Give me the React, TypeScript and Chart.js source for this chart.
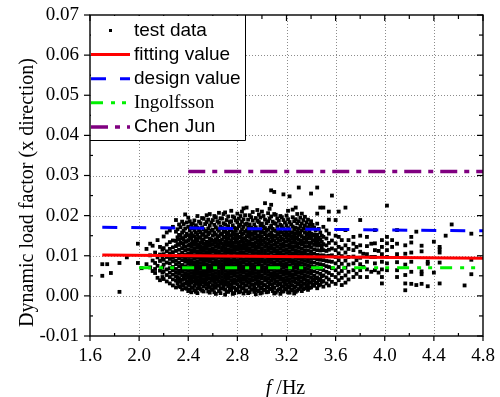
import React, { useEffect, useRef } from "react";
import { Chart, registerables } from "chart.js";

Chart.register(...registerables);

// ---- axis ticks ----
const xTicks = [1.6, 2.0, 2.4, 2.8, 3.2, 3.6, 4.0, 4.4, 4.8];
const xMinorTicks = [1.8, 2.2, 2.6, 3.0, 3.4, 3.8, 4.2, 4.6];
const yTicks = [-0.01, 0.0, 0.01, 0.02, 0.03, 0.04, 0.05, 0.06, 0.07];
const yMinorTicks = [-0.005, 0.005, 0.015, 0.025, 0.035, 0.045, 0.055, 0.065];

// ---- legend / titles ----
const legendLabels = ["test data", "fitting value", "design value", "Ingolfsson", "Chen Jun"];
const xTitleItalic = "f";
const xTitleRest = " /Hz";
const yTitle = "Dynamic load factor (x direction)";

// ---- reference lines ----
const fitF = [1.7, 4.8];
const fitV = [0.0102, 0.0094];
const designF = [1.7, 4.8];
const designV = [0.0171, 0.0162];
const ingolfssonF = [2.0, 4.8];
const ingolfssonV = [0.007, 0.007];
const chenF = [2.4, 4.8];
const chenV = [0.031, 0.031];

// ---- test data: [frequency, values at that frequency] ----
const testColumns: [number, number[]][] = [
  [1.70, [0.0079, 0.0050]],
  [1.74, [0.0079]],
  [1.77, [0.0057]],
  [1.84, [0.0082, 0.0010]],
  [1.90, [0.0096]],
  [1.99, [0.0082, 0.0130]],
  [2.02, [0.0069]],
  [2.06, [0.0117, 0.0079]],
  [2.09, [0.0130, 0.0101, 0.0071]],
  [2.11, [0.0125, 0.0088, 0.0062]],
  [2.13, [0.0082, 0.0067, 0.0057, 0.0108]],
  [2.15, [0.0139, 0.0075, 0.0045, 0.0096]],
  [2.17, [0.0122, 0.0063, 0.0039, 0.0103, 0.0087]],
  [2.19, [0.0115, 0.0047, 0.0071, 0.0093, 0.0058]],
  [2.200, [0.0042, 0.0061, 0.0078, 0.0090, 0.0104, 0.0119, 0.0148]],
  [2.225, [0.0036, 0.0052, 0.0066, 0.0083, 0.0097, 0.0111, 0.0128, 0.0158]],
  [2.250, [0.0031, 0.0047, 0.0058, 0.0069, 0.0081, 0.0092, 0.0106, 0.0117, 0.0134, 0.0163]],
  [2.275, [0.0026, 0.0041, 0.0053, 0.0064, 0.0072, 0.0086, 0.0095, 0.0109, 0.0121, 0.0138, 0.0172]],
  [2.300, [0.0021, 0.0038, 0.0049, 0.0058, 0.0067, 0.0079, 0.0088, 0.0099, 0.0112, 0.0124, 0.0137, 0.0160, 0.0189]],
  [2.325, [0.0024, 0.0035, 0.0044, 0.0055, 0.0063, 0.0074, 0.0083, 0.0094, 0.0103, 0.0115, 0.0127, 0.0141, 0.0152, 0.0178]],
  [2.350, [0.0016, 0.0029, 0.0040, 0.0051, 0.0060, 0.0069, 0.0077, 0.0089, 0.0098, 0.0108, 0.0119, 0.0131, 0.0144, 0.0158, 0.0185]],
  [2.375, [0.0019, 0.0031, 0.0042, 0.0050, 0.0057, 0.0066, 0.0074, 0.0085, 0.0093, 0.0102, 0.0113, 0.0122, 0.0135, 0.0149, 0.0168, 0.0203]],
  [2.400, [0.0012, 0.0027, 0.0036, 0.0045, 0.0054, 0.0062, 0.0071, 0.0080, 0.0088, 0.0097, 0.0106, 0.0116, 0.0126, 0.0139, 0.0151, 0.0172, 0.0195]],
  [2.425, [0.0009, 0.0021, 0.0033, 0.0041, 0.0049, 0.0057, 0.0065, 0.0072, 0.0081, 0.0089, 0.0098, 0.0105, 0.0113, 0.0122, 0.0131, 0.0142, 0.0156, 0.0177]],
  [2.450, [0.0014, 0.0025, 0.0037, 0.0046, 0.0053, 0.0061, 0.0068, 0.0076, 0.0084, 0.0093, 0.0101, 0.0110, 0.0118, 0.0127, 0.0136, 0.0148, 0.0163, 0.0188]],
  [2.475, [0.0007, 0.0019, 0.0030, 0.0039, 0.0047, 0.0055, 0.0063, 0.0070, 0.0079, 0.0086, 0.0095, 0.0103, 0.0111, 0.0120, 0.0129, 0.0139, 0.0152, 0.0170, 0.0199]],
  [2.500, [0.0017, 0.0028, 0.0036, 0.0044, 0.0051, 0.0059, 0.0067, 0.0074, 0.0082, 0.0091, 0.0099, 0.0107, 0.0115, 0.0124, 0.0133, 0.0145, 0.0159, 0.0181]],
  [2.525, [0.0011, 0.0023, 0.0034, 0.0042, 0.0050, 0.0058, 0.0066, 0.0073, 0.0080, 0.0088, 0.0096, 0.0104, 0.0112, 0.0121, 0.0130, 0.0140, 0.0154, 0.0166, 0.0192]],
  [2.550, [0.0019, 0.0031, 0.0040, 0.0048, 0.0056, 0.0064, 0.0071, 0.0078, 0.0087, 0.0094, 0.0102, 0.0109, 0.0117, 0.0126, 0.0135, 0.0147, 0.0161, 0.0184, 0.0201]],
  [2.575, [0.0008, 0.0022, 0.0033, 0.0043, 0.0052, 0.0060, 0.0068, 0.0076, 0.0085, 0.0092, 0.0100, 0.0108, 0.0116, 0.0125, 0.0134, 0.0143, 0.0157, 0.0175, 0.0204]],
  [2.600, [0.0015, 0.0027, 0.0038, 0.0046, 0.0054, 0.0062, 0.0069, 0.0077, 0.0084, 0.0093, 0.0101, 0.0110, 0.0119, 0.0128, 0.0138, 0.0150, 0.0165, 0.0189]],
  [2.625, [0.0005, 0.0020, 0.0032, 0.0041, 0.0049, 0.0057, 0.0065, 0.0073, 0.0081, 0.0089, 0.0097, 0.0106, 0.0114, 0.0123, 0.0132, 0.0141, 0.0153, 0.0171, 0.0196]],
  [2.650, [0.0012, 0.0026, 0.0036, 0.0045, 0.0053, 0.0061, 0.0070, 0.0078, 0.0086, 0.0095, 0.0103, 0.0111, 0.0120, 0.0129, 0.0137, 0.0149, 0.0162, 0.0182, 0.0207]],
  [2.675, [0.0018, 0.0030, 0.0039, 0.0047, 0.0055, 0.0063, 0.0071, 0.0079, 0.0087, 0.0096, 0.0104, 0.0113, 0.0121, 0.0130, 0.0140, 0.0155, 0.0169, 0.0193]],
  [2.700, [0.0003, 0.0016, 0.0028, 0.0037, 0.0046, 0.0054, 0.0062, 0.0070, 0.0078, 0.0086, 0.0094, 0.0102, 0.0110, 0.0119, 0.0127, 0.0136, 0.0146, 0.0160, 0.0178, 0.0208]],
  [2.725, [0.0010, 0.0024, 0.0034, 0.0043, 0.0051, 0.0059, 0.0067, 0.0075, 0.0083, 0.0091, 0.0099, 0.0108, 0.0116, 0.0125, 0.0134, 0.0144, 0.0157, 0.0174, 0.0198]],
  [2.750, [0.0014, 0.0027, 0.0038, 0.0047, 0.0056, 0.0064, 0.0072, 0.0080, 0.0088, 0.0097, 0.0105, 0.0114, 0.0122, 0.0131, 0.0139, 0.0151, 0.0166, 0.0186, 0.0212]],
  [2.775, [0.0007, 0.0021, 0.0032, 0.0041, 0.0050, 0.0058, 0.0066, 0.0074, 0.0082, 0.0090, 0.0098, 0.0107, 0.0115, 0.0124, 0.0133, 0.0143, 0.0154, 0.0170, 0.0195]],
  [2.800, [0.0017, 0.0029, 0.0039, 0.0048, 0.0057, 0.0065, 0.0073, 0.0081, 0.0089, 0.0098, 0.0106, 0.0115, 0.0123, 0.0132, 0.0142, 0.0153, 0.0168, 0.0183, 0.0205]],
  [2.825, [0.0011, 0.0023, 0.0035, 0.0044, 0.0052, 0.0060, 0.0068, 0.0076, 0.0084, 0.0092, 0.0100, 0.0109, 0.0117, 0.0126, 0.0135, 0.0146, 0.0159, 0.0177, 0.0199]],
  [2.850, [0.0006, 0.0019, 0.0031, 0.0040, 0.0049, 0.0058, 0.0066, 0.0074, 0.0083, 0.0091, 0.0100, 0.0108, 0.0117, 0.0125, 0.0134, 0.0144, 0.0156, 0.0172, 0.0191, 0.0218]],
  [2.875, [0.0014, 0.0026, 0.0037, 0.0045, 0.0054, 0.0062, 0.0070, 0.0078, 0.0087, 0.0095, 0.0103, 0.0112, 0.0120, 0.0129, 0.0138, 0.0149, 0.0163, 0.0180, 0.0220]],
  [2.900, [0.0009, 0.0022, 0.0033, 0.0042, 0.0051, 0.0059, 0.0067, 0.0075, 0.0084, 0.0092, 0.0101, 0.0110, 0.0118, 0.0127, 0.0136, 0.0147, 0.0161, 0.0178, 0.0201]],
  [2.925, [0.0016, 0.0028, 0.0038, 0.0047, 0.0055, 0.0063, 0.0071, 0.0079, 0.0088, 0.0096, 0.0105, 0.0113, 0.0122, 0.0131, 0.0141, 0.0152, 0.0167, 0.0188, 0.0209]],
  [2.950, [0.0004, 0.0018, 0.0030, 0.0040, 0.0049, 0.0057, 0.0065, 0.0073, 0.0082, 0.0090, 0.0099, 0.0107, 0.0116, 0.0124, 0.0133, 0.0143, 0.0155, 0.0171, 0.0194]],
  [2.975, [0.0012, 0.0025, 0.0036, 0.0045, 0.0053, 0.0061, 0.0070, 0.0078, 0.0086, 0.0094, 0.0103, 0.0111, 0.0120, 0.0129, 0.0139, 0.0150, 0.0164, 0.0184, 0.0203]],
  [3.000, [0.0008, 0.0021, 0.0033, 0.0043, 0.0051, 0.0060, 0.0068, 0.0076, 0.0085, 0.0093, 0.0102, 0.0110, 0.0119, 0.0128, 0.0137, 0.0148, 0.0162, 0.0180, 0.0210]],
  [3.025, [0.0015, 0.0027, 0.0038, 0.0046, 0.0055, 0.0063, 0.0071, 0.0080, 0.0088, 0.0097, 0.0105, 0.0114, 0.0123, 0.0132, 0.0142, 0.0154, 0.0169, 0.0190, 0.0231]],
  [3.050, [0.0010, 0.0023, 0.0034, 0.0043, 0.0052, 0.0060, 0.0069, 0.0077, 0.0086, 0.0094, 0.0103, 0.0112, 0.0121, 0.0130, 0.0140, 0.0151, 0.0165, 0.0186, 0.0206]],
  [3.075, [0.0017, 0.0029, 0.0039, 0.0048, 0.0056, 0.0065, 0.0073, 0.0082, 0.0090, 0.0099, 0.0108, 0.0117, 0.0126, 0.0135, 0.0145, 0.0158, 0.0175, 0.0198, 0.0227, 0.0263]],
  [3.100, [0.0006, 0.0020, 0.0032, 0.0042, 0.0050, 0.0059, 0.0067, 0.0076, 0.0084, 0.0093, 0.0101, 0.0110, 0.0119, 0.0128, 0.0138, 0.0149, 0.0163, 0.0181, 0.0204, 0.0259]],
  [3.125, [0.0013, 0.0026, 0.0036, 0.0045, 0.0054, 0.0062, 0.0071, 0.0079, 0.0088, 0.0096, 0.0105, 0.0114, 0.0123, 0.0133, 0.0143, 0.0156, 0.0172, 0.0193]],
  [3.150, [0.0005, 0.0018, 0.0030, 0.0040, 0.0049, 0.0058, 0.0066, 0.0075, 0.0083, 0.0092, 0.0100, 0.0109, 0.0118, 0.0127, 0.0137, 0.0147, 0.0160, 0.0177, 0.0199]],
  [3.175, [0.0011, 0.0024, 0.0035, 0.0044, 0.0053, 0.0061, 0.0070, 0.0078, 0.0087, 0.0095, 0.0104, 0.0113, 0.0122, 0.0131, 0.0141, 0.0153, 0.0168, 0.0189, 0.0253]],
  [3.200, [0.0016, 0.0028, 0.0038, 0.0047, 0.0056, 0.0064, 0.0073, 0.0081, 0.0090, 0.0098, 0.0107, 0.0116, 0.0125, 0.0135, 0.0146, 0.0159, 0.0176, 0.0200]],
  [3.225, [0.0008, 0.0021, 0.0033, 0.0042, 0.0051, 0.0059, 0.0068, 0.0076, 0.0085, 0.0093, 0.0102, 0.0111, 0.0120, 0.0129, 0.0139, 0.0150, 0.0164, 0.0184, 0.0248]],
  [3.250, [0.0014, 0.0026, 0.0037, 0.0046, 0.0054, 0.0063, 0.0071, 0.0080, 0.0088, 0.0097, 0.0106, 0.0115, 0.0124, 0.0134, 0.0144, 0.0157, 0.0173, 0.0196, 0.0215]],
  [3.275, [0.0010, 0.0023, 0.0034, 0.0044, 0.0053, 0.0061, 0.0070, 0.0079, 0.0087, 0.0096, 0.0105, 0.0114, 0.0123, 0.0132, 0.0142, 0.0155, 0.0170, 0.0191, 0.0220]],
  [3.300, [0.0017, 0.0029, 0.0040, 0.0049, 0.0058, 0.0067, 0.0075, 0.0084, 0.0093, 0.0102, 0.0111, 0.0120, 0.0130, 0.0140, 0.0152, 0.0167, 0.0186, 0.0270]],
  [3.325, [0.0012, 0.0025, 0.0036, 0.0046, 0.0055, 0.0064, 0.0073, 0.0082, 0.0091, 0.0100, 0.0109, 0.0118, 0.0128, 0.0138, 0.0149, 0.0163, 0.0180, 0.0205]],
  [3.350, [0.0019, 0.0031, 0.0042, 0.0051, 0.0060, 0.0069, 0.0078, 0.0087, 0.0096, 0.0105, 0.0114, 0.0124, 0.0134, 0.0145, 0.0158, 0.0175, 0.0197]],
  [3.375, [0.0015, 0.0028, 0.0039, 0.0049, 0.0058, 0.0067, 0.0076, 0.0085, 0.0094, 0.0103, 0.0113, 0.0123, 0.0133, 0.0144, 0.0156, 0.0171, 0.0190]],
  [3.400, [0.0021, 0.0034, 0.0045, 0.0055, 0.0064, 0.0074, 0.0083, 0.0092, 0.0102, 0.0111, 0.0121, 0.0132, 0.0143, 0.0155, 0.0169, 0.0186, 0.0255]],
  [3.425, [0.0025, 0.0038, 0.0050, 0.0061, 0.0072, 0.0083, 0.0094, 0.0105, 0.0116, 0.0127, 0.0139, 0.0153, 0.0170]],
  [3.450, [0.0019, 0.0033, 0.0046, 0.0058, 0.0069, 0.0080, 0.0091, 0.0102, 0.0114, 0.0125, 0.0138, 0.0152, 0.0180, 0.0205, 0.0270]],
  [3.475, [0.0028, 0.0042, 0.0055, 0.0067, 0.0079, 0.0090, 0.0101, 0.0113, 0.0126, 0.0140, 0.0158, 0.0220]],
  [3.500, [0.0023, 0.0037, 0.0051, 0.0064, 0.0077, 0.0089, 0.0101, 0.0114, 0.0129, 0.0147, 0.0172, 0.0220]],
  [3.525, [0.0031, 0.0046, 0.0060, 0.0074, 0.0087, 0.0099, 0.0112, 0.0126, 0.0143, 0.0163]],
  [3.545, [0.0026, 0.0041, 0.0057, 0.0072, 0.0086, 0.0100, 0.0115, 0.0132, 0.0155, 0.0190, 0.0210]],
  [3.570, [0.0035, 0.0052, 0.0069, 0.0085, 0.0101, 0.0118, 0.0138, 0.0250]],
  [3.600, [0.0030, 0.0047, 0.0064, 0.0081, 0.0097, 0.0114, 0.0131, 0.0150, 0.0189]],
  [3.625, [0.0039, 0.0056, 0.0072, 0.0089, 0.0106, 0.0122, 0.0147, 0.0210]],
  [3.650, [0.0027, 0.0045, 0.0062, 0.0080, 0.0099, 0.0118, 0.0139]],
  [3.680, [0.0033, 0.0051, 0.0070, 0.0088, 0.0108, 0.0126, 0.0164, 0.0220]],
  [3.705, [0.0041, 0.0060, 0.0078, 0.0097, 0.0117, 0.0139]],
  [3.745, [0.0047, 0.0064, 0.0081, 0.0098, 0.0114, 0.0130, 0.0147]],
  [3.770, [0.0055, 0.0089, 0.0122]],
  [3.800, [0.0047, 0.0064, 0.0079, 0.0095, 0.0110, 0.0126, 0.0150, 0.0189]],
  [3.825, [0.0072, 0.0105]],
  [3.855, [0.0047, 0.0066, 0.0085, 0.0104, 0.0124, 0.0147]],
  [3.890, [0.0060, 0.0097, 0.0130]],
  [3.920, [0.0064, 0.0081, 0.0097, 0.0114, 0.0131, 0.0164]],
  [3.950, [0.0058, 0.0112]],
  [3.977, [0.0031, 0.0047, 0.0066, 0.0085, 0.0104, 0.0122, 0.0139]],
  [4.018, [0.0064, 0.0081, 0.0097, 0.0114, 0.0131, 0.0147, 0.0225]],
  [4.060, [0.0122, 0.0139]],
  [4.100, [0.0047, 0.0064, 0.0084, 0.0104, 0.0130, 0.0164]],
  [4.167, [0.0014, 0.0031, 0.0052, 0.0078, 0.0105, 0.0126]],
  [4.216, [0.0030, 0.0060, 0.0085, 0.0108, 0.0133, 0.0147]],
  [4.257, [0.0027, 0.0160]],
  [4.300, [0.0030, 0.0054, 0.0061, 0.0111, 0.0125]],
  [4.350, [0.0024, 0.0080, 0.0085]],
  [4.400, [0.0058, 0.0135]],
  [4.447, [0.0031, 0.0083, 0.0108, 0.0116, 0.0122]],
  [4.496, [0.0150]],
  [4.545, [0.0178]],
  [4.650, [0.0026]],
  [4.705, [0.0054, 0.0090, 0.0155]],
];

// extra test data in the upper and lower fringes of the dense band
const testColumnsFringe: [number, number[]][] = [
  [2.3125, [0.0031, 0.0046, 0.0129, 0.0146, 0.0166]],
  [2.3375, [0.0022, 0.0037, 0.0133, 0.0150, 0.0171]],
  [2.3625, [0.0026, 0.0044, 0.0127, 0.0141, 0.0162, 0.0179]],
  [2.3875, [0.0018, 0.0034, 0.0136, 0.0155, 0.0183]],
  [2.4125, [0.0015, 0.0029, 0.0040, 0.0128, 0.0147, 0.0164, 0.0186]],
  [2.4375, [0.0020, 0.0035, 0.0135, 0.0151, 0.0169, 0.0180]],
  [2.4625, [0.0010, 0.0031, 0.0044, 0.0130, 0.0143, 0.0158, 0.0176]],
  [2.4875, [0.0024, 0.0036, 0.0125, 0.0146, 0.0162, 0.0185]],
  [2.5125, [0.0013, 0.0033, 0.0138, 0.0152, 0.0171, 0.0194]],
  [2.5375, [0.0028, 0.0039, 0.0127, 0.0148, 0.0161, 0.0179]],
  [2.5625, [0.0011, 0.0025, 0.0044, 0.0133, 0.0154, 0.0168, 0.0190]],
  [2.5875, [0.0017, 0.0038, 0.0129, 0.0140, 0.0163, 0.0183]],
  [2.6125, [0.0009, 0.0023, 0.0035, 0.0136, 0.0157, 0.0177, 0.0199]],
  [2.6375, [0.0026, 0.0042, 0.0128, 0.0145, 0.0166, 0.0186]],
  [2.6625, [0.0007, 0.0019, 0.0033, 0.0134, 0.0153, 0.0172, 0.0193]],
  [2.6875, [0.0023, 0.0036, 0.0124, 0.0147, 0.0160, 0.0181, 0.0204]],
  [2.7125, [0.0011, 0.0032, 0.0043, 0.0139, 0.0152, 0.0168, 0.0189]],
  [2.7375, [0.0018, 0.0029, 0.0131, 0.0150, 0.0163, 0.0184]],
  [2.7625, [0.0005, 0.0021, 0.0034, 0.0126, 0.0144, 0.0159, 0.0176, 0.0198]],
  [2.7875, [0.0014, 0.0037, 0.0137, 0.0149, 0.0162, 0.0188]],
  [2.8125, [0.0009, 0.0024, 0.0044, 0.0130, 0.0147, 0.0174, 0.0192]],
  [2.8375, [0.0019, 0.0031, 0.0138, 0.0153, 0.0166, 0.0185, 0.0210]],
  [2.8625, [0.0012, 0.0026, 0.0041, 0.0128, 0.0142, 0.0160, 0.0178, 0.0201]],
  [2.8875, [0.0007, 0.0033, 0.0134, 0.0155, 0.0171, 0.0190]],
  [2.9125, [0.0016, 0.0028, 0.0039, 0.0141, 0.0156, 0.0170, 0.0196]],
  [2.9375, [0.0010, 0.0022, 0.0127, 0.0145, 0.0160, 0.0178]],
  [2.9625, [0.0013, 0.0034, 0.0045, 0.0137, 0.0149, 0.0163, 0.0187, 0.0214]],
  [2.9875, [0.0006, 0.0019, 0.0031, 0.0132, 0.0144, 0.0157, 0.0175, 0.0195]],
  [3.0125, [0.0015, 0.0027, 0.0139, 0.0158, 0.0172, 0.0199]],
  [3.0375, [0.0009, 0.0021, 0.0040, 0.0128, 0.0146, 0.0162, 0.0181]],
  [3.0625, [0.0018, 0.0030, 0.0135, 0.0153, 0.0170, 0.0193, 0.0217]],
  [3.0875, [0.0012, 0.0025, 0.0044, 0.0140, 0.0151, 0.0167, 0.0185]],
  [3.1125, [0.0008, 0.0035, 0.0131, 0.0148, 0.0162, 0.0180, 0.0202]],
  [3.1375, [0.0016, 0.0029, 0.0138, 0.0153, 0.0165, 0.0187]],
  [3.1625, [0.0011, 0.0023, 0.0041, 0.0127, 0.0143, 0.0158, 0.0174, 0.0196]],
  [3.1875, [0.0019, 0.0032, 0.0136, 0.0151, 0.0162, 0.0183]],
  [3.2125, [0.0009, 0.0024, 0.0040, 0.0141, 0.0154, 0.0169, 0.0191, 0.0212]],
  [3.2375, [0.0015, 0.0027, 0.0133, 0.0147, 0.0158, 0.0178]],
  [3.2625, [0.0006, 0.0020, 0.0036, 0.0139, 0.0151, 0.0165, 0.0186]],
  [3.2875, [0.0013, 0.0031, 0.0129, 0.0146, 0.0161, 0.0181, 0.0204]],
  [3.3125, [0.0022, 0.0035, 0.0135, 0.0157, 0.0174, 0.0195]],
  [3.3375, [0.0017, 0.0030, 0.0043, 0.0132, 0.0144, 0.0168, 0.0189]],
  [3.3625, [0.0024, 0.0037, 0.0139, 0.0152, 0.0166, 0.0183]],
  [3.3875, [0.0020, 0.0033, 0.0128, 0.0149, 0.0162, 0.0178]],
  [3.4125, [0.0028, 0.0041, 0.0137, 0.0150, 0.0177]],
  [3.4375, [0.0032, 0.0044, 0.0133, 0.0146, 0.0163]],
  [3.4625, [0.0026, 0.0039, 0.0131, 0.0145, 0.0167]],
  [3.4875, [0.0035, 0.0049, 0.0120, 0.0135, 0.0150]],
];

const pairs = (xs: number[], ys: number[]) => xs.map((x, i) => ({ x, y: ys[i] }));

const fitDash: number[] = [];
const designDash = [15, 14];
const ingolfssonDash = [12, 8, 4, 7, 4, 8];
const chenDash = [17, 7, 5, 7];

const legendStyles = [
  { color: "#000000", dash: fitDash, width: 0, marker: true, serif: false },
  { color: "#ff0000", dash: fitDash, width: 3, marker: false, serif: false },
  { color: "#0000ff", dash: designDash, width: 3, marker: false, serif: false },
  { color: "#00f000", dash: ingolfssonDash, width: 3, marker: false, serif: true },
  { color: "#800080", dash: chenDash, width: 3.5, marker: false, serif: false },
];

const SERIF = "'Liberation Serif', 'Times New Roman', serif";
const SANS = "'Liberation Sans', Arial, sans-serif";

const decorPlugin = {
  id: "decor",
  beforeDatasetsDraw(chart: any) {
    const { ctx, chartArea, scales } = chart;
    const { left, right, top, bottom } = chartArea;
    ctx.save();
    ctx.strokeStyle = "#8c8c8c";
    ctx.lineWidth = 1;
    ctx.setLineDash([1, 2]);
    xTicks.slice(1, -1).forEach((v) => {
      const px = Math.round(scales.x.getPixelForValue(v)) + 0.5;
      ctx.beginPath();
      ctx.moveTo(px, top);
      ctx.lineTo(px, bottom);
      ctx.stroke();
    });
    yTicks.slice(1, -1).forEach((v) => {
      const py = Math.round(scales.y.getPixelForValue(v)) + 0.5;
      ctx.beginPath();
      ctx.moveTo(left, py);
      ctx.lineTo(right, py);
      ctx.stroke();
    });
    ctx.restore();
  },
  afterDatasetsDraw(chart: any) {
    const { ctx, chartArea, scales } = chart;
    const { left, right, top, bottom } = chartArea;
    ctx.save();
    ctx.setLineDash([]);
    ctx.strokeStyle = "#000";
    ctx.lineWidth = 1.4;
    ctx.strokeRect(left, top, right - left, bottom - top);
    const seg = (x1: number, y1: number, x2: number, y2: number) => {
      ctx.beginPath();
      ctx.moveTo(x1, y1);
      ctx.lineTo(x2, y2);
      ctx.stroke();
    };
    ctx.lineWidth = 1.2;
    xTicks.forEach((v) => {
      const px = scales.x.getPixelForValue(v);
      seg(px, bottom, px, bottom + 5);
      seg(px, top, px, top + 6);
    });
    xMinorTicks.forEach((v) => {
      const px = scales.x.getPixelForValue(v);
      seg(px, bottom, px, bottom - 3);
      seg(px, top, px, top + 4);
    });
    yTicks.forEach((v) => {
      const py = scales.y.getPixelForValue(v);
      seg(left - 6, py, left, py);
      seg(right - 6, py, right, py);
    });
    yMinorTicks.forEach((v) => {
      const py = scales.y.getPixelForValue(v);
      seg(left, py, left + 3, py);
      seg(right - 4, py, right, py);
    });
    ctx.restore();
  },
  afterDraw(chart: any) {
    const { ctx, chartArea } = chart;
    const { left, right, top, bottom } = chartArea;
    ctx.save();
    // legend box
    const W = 155;
    const H = 125;
    ctx.fillStyle = "#fff";
    ctx.fillRect(left + 1, top + 1, W - 1, H - 1);
    ctx.strokeStyle = "#000";
    ctx.lineWidth = 1;
    ctx.setLineDash([]);
    ctx.beginPath();
    ctx.moveTo(left + W + 0.5, top);
    ctx.lineTo(left + W + 0.5, top + H + 0.5);
    ctx.lineTo(left, top + H + 0.5);
    ctx.stroke();

    legendLabels.forEach((label, i) => {
      const st = legendStyles[i];
      const cy = top + 15.5 + i * 24.1;
      if (st.marker) {
        ctx.fillStyle = st.color;
        ctx.fillRect(left + 19, cy - 1.5, 3, 3);
      } else {
        ctx.strokeStyle = st.color;
        ctx.lineWidth = st.width;
        ctx.setLineDash(st.dash);
        ctx.beginPath();
        ctx.moveTo(left + 1, cy);
        ctx.lineTo(left + 40, cy);
        ctx.stroke();
        ctx.setLineDash([]);
      }
      ctx.fillStyle = "#000";
      ctx.font = st.serif ? `19px ${SERIF}` : `19px ${SANS}`;
      ctx.textAlign = "left";
      ctx.textBaseline = "middle";
      ctx.fillText(label, left + 44, cy);
    });

    // y title
    ctx.save();
    ctx.translate(left - 57, (top + bottom) / 2 + 17);
    ctx.rotate(-Math.PI / 2);
    ctx.font = `20px ${SERIF}`;
    ctx.fillStyle = "#000";
    ctx.textAlign = "center";
    ctx.textBaseline = "alphabetic";
    ctx.fillText(yTitle, 0, 0);
    ctx.restore();

    // x title
    ctx.fillStyle = "#000";
    ctx.textBaseline = "alphabetic";
    ctx.textAlign = "left";
    ctx.font = `italic 20px ${SERIF}`;
    const w1 = ctx.measureText(xTitleItalic).width;
    ctx.font = `20px ${SERIF}`;
    const w2 = ctx.measureText(xTitleRest).width;
    const cx = (left + right) / 2 - 1;
    const x0 = cx - (w1 + w2) / 2;
    ctx.font = `italic 20px ${SERIF}`;
    ctx.fillText(xTitleItalic, x0, bottom + 58);
    ctx.font = `20px ${SERIF}`;
    ctx.fillText(xTitleRest, x0 + w1, bottom + 58);
    ctx.restore();
  },
};

export default function App() {
  const canvasRef = useRef<HTMLCanvasElement | null>(null);

  useEffect(() => {
    const canvas = canvasRef.current;
    if (!canvas) return;
    const testPoints = testColumns
      .concat(testColumnsFringe)
      .flatMap(([f, vs]) => vs.map((v) => ({ x: f, y: v })));

    const lineDs = (label: string, xs: number[], ys: number[], color: string, dash: number[], width: number) => ({
      type: "line" as const,
      label,
      data: pairs(xs, ys),
      borderColor: color,
      backgroundColor: color,
      borderWidth: width,
      borderDash: dash,
      borderCapStyle: "butt" as const,
      pointRadius: 0,
      fill: false,
      order: 0,
    });

    const chart = new Chart(canvas, {
      type: "scatter",
      data: {
        datasets: [
          lineDs(legendLabels[1], fitF, fitV, "#ff0000", fitDash, 3),
          lineDs(legendLabels[2], designF, designV, "#0000ff", designDash, 3),
          lineDs(legendLabels[3], ingolfssonF, ingolfssonV, "#00f000", ingolfssonDash, 3),
          lineDs(legendLabels[4], chenF, chenV, "#800080", chenDash, 3.5),
          {
            type: "scatter" as const,
            label: legendLabels[0],
            data: testPoints,
            pointStyle: "rect",
            pointRadius: 2.7,
            pointBorderWidth: 0,
            borderWidth: 0,
            backgroundColor: "#000",
            order: 5,
          } as any,
        ],
      },
      options: {
        responsive: false,
        animation: false,
        devicePixelRatio: 1,
        layout: { padding: { top: 15, right: 17, left: 0, bottom: 0 } },
        plugins: {
          legend: { display: false },
          tooltip: { enabled: false },
          title: { display: false },
        },
        scales: {
          x: {
            type: "linear",
            min: 1.6,
            max: 4.8,
            grid: { display: false, drawTicks: false },
            border: { display: false },
            ticks: {
              stepSize: 0.4,
              color: "#000",
              padding: 9,
              font: { family: SERIF, size: 19 },
              maxRotation: 0,
              callback: (v: any) => Number(v).toFixed(1),
            },
            afterFit: (s: any) => {
              s.height = 61;
              s.paddingLeft = 0;
              s.paddingRight = 0;
            },
          },
          y: {
            type: "linear",
            min: -0.01,
            max: 0.07,
            grid: { display: false, drawTicks: false },
            border: { display: false },
            ticks: {
              stepSize: 0.01,
              color: "#000",
              padding: 11,
              font: { family: SERIF, size: 19 },
              callback: (v: any) => Number(v).toFixed(2),
            },
            afterFit: (s: any) => {
              s.width = 90;
              s.paddingTop = 0;
              s.paddingBottom = 0;
            },
          },
        },
      },
      plugins: [decorPlugin],
    });
    return () => chart.destroy();
  }, []);

  return (
    <div style={{ position: "absolute", left: 0, top: 0, width: 500, height: 397, background: "#fff" }}>
      <canvas ref={canvasRef} width={500} height={397} style={{ display: "block" }} />
    </div>
  );
}
